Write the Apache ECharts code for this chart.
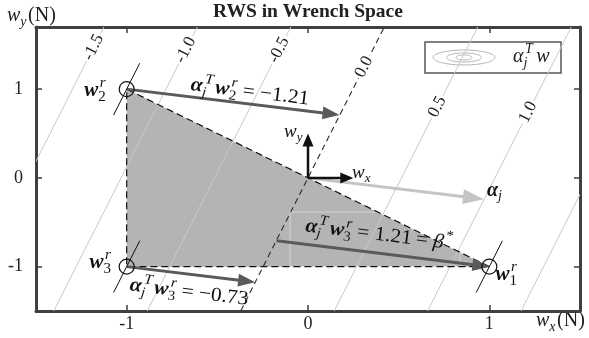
<!DOCTYPE html>
<html><head><meta charset="utf-8">
<script src="https://cdn.jsdelivr.net/npm/echarts@6/dist/echarts.min.js"></script>
<style>html,body{margin:0;padding:0;background:#fff}#c{width:589px;height:338px}</style>
</head><body><div id="c"></div>
<script>
// ---------------- data ----------------
const xTicks = [-1, 0, 1];
const yTicks = [-1, 0, 1];
const xRange = [-1.5, 1.5];
const yRange = [-1.5, 1.7];
const alphaJ = [0.97, -0.24];              // direction alpha_j
const vertexX = [1, -1, -1];               // w1^r, w2^r, w3^r
const vertexY = [-1, 1, -1];
const vertexNames = ['1', '2', '3'];
const projValues = [1.21, -1.21, -0.73];   // alpha_j^T w_i^r
const contourLevels = [-1.5, -1.0, -0.5, 0.0, 0.5, 1.0, 1.5];
const contourLabels = ['-1.5', '-1.0', '-0.5', '0.0', '0.5', '1.0'];
const titleText = 'RWS in Wrench Space';

// ---------------- layout ----------------
const contourLabelY = [1.47, 1.44, 1.44, 1.25, 0.80, 0.74];
const basisLen = [0.25, 0.5];
const FAM = "'Liberation Serif','Times New Roman',serif";
const C_FILL = '#b4b4b7', C_CONT = '#c9c9c9', C_DARK = '#5a5a5a', C_LIGHT = '#c4c4c4', C_AX = '#404040';

const ctx2d = document.createElement('canvas').getContext('2d');
function fstr(st, size) { return (st.indexOf('i') >= 0 ? 'italic ' : '') + (st.indexOf('b') >= 0 ? 'bold ' : '') + size + 'px ' + FAM; }
function mw(s, st, size) { ctx2d.font = fstr(st, size); return ctx2d.measureText(s).width; }
function txt(x, y, s, st, size, color) {
  return { type: 'text', x: x, y: y, style: { text: s, fontFamily: FAM, fontSize: size,
    fontStyle: st.indexOf('i') >= 0 ? 'italic' : 'normal', fontWeight: st.indexOf('b') >= 0 ? 'bold' : 'normal',
    fill: color, align: 'left', verticalAlign: 'middle' } };
}
// tokens: [text, style] | {sub, sup} | number (gap in px)
function mathGroup(tokens, size, color, align) {
  const ss = Math.round(size * 0.7);
  const kids = []; let x = 0;
  tokens.forEach(tk => {
    if (typeof tk === 'number') { x += tk; return; }
    if (Array.isArray(tk)) {
      kids.push(txt(x, 0, tk[0], tk[1], size, color));
      x += mw(tk[0], tk[1], size);
    } else {
      let w = 0;
      const supSt = tk.supSt !== undefined ? tk.supSt : 'i';
      const subSt = tk.subSt !== undefined ? tk.subSt : 'i';
      if (tk.sup) { kids.push(txt(x + 1.5, -size * 0.36, tk.sup, supSt, ss, color)); w = Math.max(w, 1.5 + mw(tk.sup, supSt, ss)); }
      if (tk.sub) { kids.push(txt(x, size * 0.3, tk.sub, subSt, ss, color)); w = Math.max(w, mw(tk.sub, subSt, ss)); }
      x += w + 1.5;
    }
  });
  const off = align === 'left' ? 0 : (align === 'right' ? -x : -x / 2);
  kids.forEach(k => { k.x += off; });
  return { children: kids, width: x };
}
function num(v) { return (v < 0 ? '\u2212' : '') + Math.abs(v).toFixed(2); }
function wTok(i) { return [['w', 'bi'], { sub: vertexNames[i], subSt: '', sup: 'r' }]; }
function aTok() { return [['\u03b1', 'bi'], { sub: 'j', sup: 'T' }, 1]; }
const EQ = [4, ['=', ''], 5];

const mathLabels = [
  { at: [-0.32, 0.966], along: true, size: 20, sx: 1.07, tokens: [].concat(aTok(), wTok(1), EQ, [[num(projValues[1]), '']]) },
  { at: [-0.656, -1.29], along: true, size: 20, sx: 1.07, tokens: [].concat(aTok(), wTok(2), EQ, [[num(projValues[2]), '']]) },
  { at: [0.397, -0.644], along: true, size: 20, sx: 1.07, tokens: [].concat(aTok(), wTok(2), EQ, [[num(projValues[0]), '']], EQ, [['\u03b2', 'i'], { sup: '*', supSt: '' }]) },
  { at: [1.032, -0.143], size: 20, tokens: [['\u03b1', 'bi'], { sub: 'j' }] },
  { at: [-0.077, 0.52], size: 19, tokens: [['w', 'i'], { sub: 'y' }] },
  { at: [0.298, 0.06], size: 19, tokens: [['w', 'i'], { sub: 'x' }] },
  { at: [-1.17, 0.98], size: 21, tokens: wTok(1) },
  { at: [-1.142, -0.96], size: 21, tokens: wTok(2) },
  { at: [1.098, -1.09], size: 21, tokens: wTok(0) }
];

// arrows derived from data
const arrowDefs = [];
vertexX.forEach((vx, i) => {
  const vy = vertexY[i], p = projValues[i];
  const z = [vx - p * alphaJ[0], vy - p * alphaJ[1]];
  if (p < 0) arrowDefs.push({ from: [vx, vy], to: z, kind: 'dark' });
  else arrowDefs.push({ from: z, to: [vx, vy], kind: 'dark' });
});
arrowDefs.push({ from: [0, 0], to: alphaJ, kind: 'light' });
arrowDefs.push({ from: [0, 0], to: [basisLen[0], 0], kind: 'black' });
arrowDefs.push({ from: [0, 0], to: [0, basisLen[1]], kind: 'black' });
const arrowStyle = {
  dark: { c: C_DARK, lw: 3, hl: 17, hw: 6.5 },
  light: { c: C_LIGHT, lw: 3, hl: 21, hw: 7.5 },
  black: { c: '#111', lw: 2.5, hl: 13, hw: 5.5 }
};
function arrowEls(p0, p1, st) {
  const dx = p1[0] - p0[0], dy = p1[1] - p0[1], L = Math.hypot(dx, dy), ux = dx / L, uy = dy / L;
  const bx = p1[0] - ux * st.hl, by = p1[1] - uy * st.hl;
  return [
    { type: 'line', shape: { x1: p0[0], y1: p0[1], x2: bx + ux, y2: by + uy }, style: { stroke: st.c, lineWidth: st.lw } },
    { type: 'polygon', shape: { points: [[p1[0], p1[1]], [bx - uy * st.hw, by + ux * st.hw], [bx + uy * st.hw, by - ux * st.hw]] }, style: { fill: st.c } }
  ];
}
function contourDir(api) {
  const a = api.coord([0, 0]), b = api.coord([-alphaJ[1], alphaJ[0]]);
  const dx = b[0] - a[0], dy = b[1] - a[1], L = Math.hypot(dx, dy);
  return [dx / L, dy / L];
}
function alphaAngle(api) {
  const a = api.coord([0, 0]), b = api.coord(alphaJ);
  return Math.atan2(b[1] - a[1], b[0] - a[0]);
}

const chart = echarts.init(document.getElementById('c'), null, { renderer: 'canvas' });
const axCommon = {
  axisLine: { show: true, onZero: false, lineStyle: { color: C_AX, width: 3 } },
  splitLine: { show: false }
};
const option = {
  animation: false,
  backgroundColor: '#fff',
  grid: { left: 36, right: 9, top: 27, bottom: 27, containLabel: false, outerBoundsMode: 'none' },
  xAxis: [
    Object.assign({ type: 'value', min: xRange[0], max: xRange[1], position: 'bottom',
      axisTick: { show: true, inside: true, length: 6, lineStyle: { color: C_AX, width: 1.5 }, customValues: xTicks },
      axisLabel: { customValues: xTicks, fontFamily: FAM, fontSize: 18, color: '#222', margin: 4 } }, axCommon),
    Object.assign({ type: 'value', min: xRange[0], max: xRange[1], position: 'top',
      axisTick: { show: true, inside: true, length: 6, lineStyle: { color: C_AX, width: 1.5 }, customValues: xTicks },
      axisLabel: { show: false } }, axCommon)
  ],
  yAxis: [
    Object.assign({ type: 'value', min: yRange[0], max: yRange[1], position: 'left',
      axisTick: { show: true, inside: true, length: 6, lineStyle: { color: C_AX, width: 1.5 }, customValues: yTicks },
      axisLabel: { customValues: yTicks, fontFamily: FAM, fontSize: 18, color: '#222', margin: 13 } }, axCommon),
    Object.assign({ type: 'value', min: yRange[0], max: yRange[1], position: 'right',
      axisTick: { show: true, inside: true, length: 6, lineStyle: { color: C_AX, width: 1.5 }, customValues: yTicks },
      axisLabel: { show: false } }, axCommon)
  ],
  graphic: [],
  series: [
    { type: 'custom', name: 'region', z: 1, data: [[vertexX[0], vertexY[0]]],
      renderItem: (params, api) => ({ type: 'polygon',
        shape: { points: vertexX.map((x, i) => api.coord([x, vertexY[i]])) }, style: { fill: C_FILL } }) },
    { type: 'custom', name: 'contours', z: 2, clip: true, data: contourLevels.map(c => [c, 0]),
      renderItem: (params, api) => {
        const c = api.value(0);
        const xa = (c - alphaJ[1] * (yRange[0] - 0.5)) / alphaJ[0], xb = (c - alphaJ[1] * (yRange[1] + 0.5)) / alphaJ[0];
        const p0 = api.coord([xa, yRange[0] - 0.5]), p1 = api.coord([xb, yRange[1] + 0.5]);
        const zero = c === 0;
        return { type: 'line', shape: { x1: p0[0], y1: p0[1], x2: p1[0], y2: p1[1] },
          style: { stroke: zero ? '#2a2a2a' : C_CONT, lineWidth: zero ? 1.1 : 1, lineDash: zero ? [6, 4] : null } };
      } },
    { type: 'custom', name: 'contourLabels', z: 3, data: contourLabels.map((t, i) => [contourLevels[i], contourLabelY[i]]),
      renderItem: (params, api) => {
        const c = api.value(0), y = api.value(1);
        const x = (c - alphaJ[1] * y) / alphaJ[0];
        const p = api.coord([x, y]); const d = contourDir(api);
        return { type: 'text', x: p[0], y: p[1], rotation: -Math.atan2(d[1], d[0]),
          style: { text: contourLabels[params.dataIndex], fontFamily: FAM, fontSize: 17, fill: '#222',
            align: 'center', verticalAlign: 'middle', backgroundColor: '#fff', padding: [0, 2] } };
      } },
    { type: 'custom', name: 'box', z: 3, data: [[-0.099, -0.385]],
      renderItem: (params, api) => {
        const a = api.coord([-0.099, -0.385]), b = api.coord([0.839, -1.0]);
        return { type: 'rect', shape: { x: a[0], y: a[1], width: b[0] - a[0], height: b[1] - a[1] },
          style: { fill: 'none', stroke: 'rgba(255,255,255,0.45)', lineWidth: 1 } };
      } },
    { type: 'custom', name: 'edges', z: 3, data: [[vertexX[0], vertexY[0]]],
      renderItem: (params, api) => ({ type: 'polygon',
        shape: { points: vertexX.map((x, i) => api.coord([x, vertexY[i]])) },
        style: { fill: 'none', stroke: '#111', lineWidth: 1.2, lineDash: [7, 4] } }) },
    { type: 'custom', name: 'arrows', z: 4, data: arrowDefs.map((a, i) => [a.from[0], a.from[1], i]),
      renderItem: (params, api) => {
        const a = arrowDefs[params.dataIndex];
        return { type: 'group', children: arrowEls(api.coord(a.from), api.coord(a.to), arrowStyle[a.kind]) };
      } },
    { type: 'custom', name: 'vertices', z: 5, data: vertexX.map((x, i) => [x, vertexY[i]]),
      renderItem: (params, api) => {
        const p = api.coord([api.value(0), api.value(1)]); const d = contourDir(api); const h = 29;
        return { type: 'group', children: [
          { type: 'line', shape: { x1: p[0] - d[0] * h, y1: p[1] - d[1] * h, x2: p[0] + d[0] * h, y2: p[1] + d[1] * h }, style: { stroke: '#111', lineWidth: 1 } },
          { type: 'circle', shape: { cx: p[0], cy: p[1], r: 7.5 }, style: { fill: 'none', stroke: '#111', lineWidth: 1.2 } }
        ] };
      } },
    { type: 'custom', name: 'labels', z: 6, data: mathLabels.map((m, i) => [m.at[0], m.at[1], i]),
      renderItem: (params, api) => {
        const m = mathLabels[params.dataIndex];
        const p = api.coord(m.at);
        const g = mathGroup(m.tokens, m.size, '#111', 'center');
        return { type: 'group', x: p[0], y: p[1], scaleX: m.sx || 1, rotation: m.along ? -alphaAngle(api) : 0, children: g.children };
      } }
  ]
};

// title, axis names, legend (graphic)
const ttl = { type: 'text', x: 308, y: 12, style: { text: titleText, fontFamily: FAM, fontSize: 19.5, fontWeight: 'bold', fill: '#222', align: 'center', verticalAlign: 'middle' } };
const yName = mathGroup([['w', 'i'], { sub: 'y' }, ['(N)', '']], 20, '#222', 'left');
const xName = mathGroup([['w', 'i'], { sub: 'x' }, ['(N)', '']], 20, '#222', 'left');
const ell = [[31, 7.5], [17.5, 4.5], [8, 2.5]].map(r => {
  const pts = []; for (let k = 0; k < 64; k++) { const t = k / 64 * 2 * Math.PI; pts.push([464 + r[0] * Math.cos(t), 57.5 + r[1] * Math.sin(t)]); }
  return { type: 'polygon', shape: { points: pts }, style: { fill: 'none', stroke: '#b5b5b5', lineWidth: 1 } };
});
const legText = mathGroup([['\u03b1', 'i'], { sub: 'j', sup: 'T' }, 2, ['w', 'i']], 20, '#222', 'left');
option.graphic = [
  ttl,
  { type: 'group', x: 7, y: 16, children: yName.children },
  { type: 'group', x: 536, y: 321, children: xName.children },
  { type: 'group', z: 100, children: [
    { type: 'rect', shape: { x: 425, y: 42, width: 136, height: 31 }, style: { fill: '#fff', stroke: '#555', lineWidth: 1.5 } }
  ].concat(ell, [{ type: 'group', x: 513, y: 57, children: legText.children }]) }
];
chart.setOption(option);
</script>
</body></html>
